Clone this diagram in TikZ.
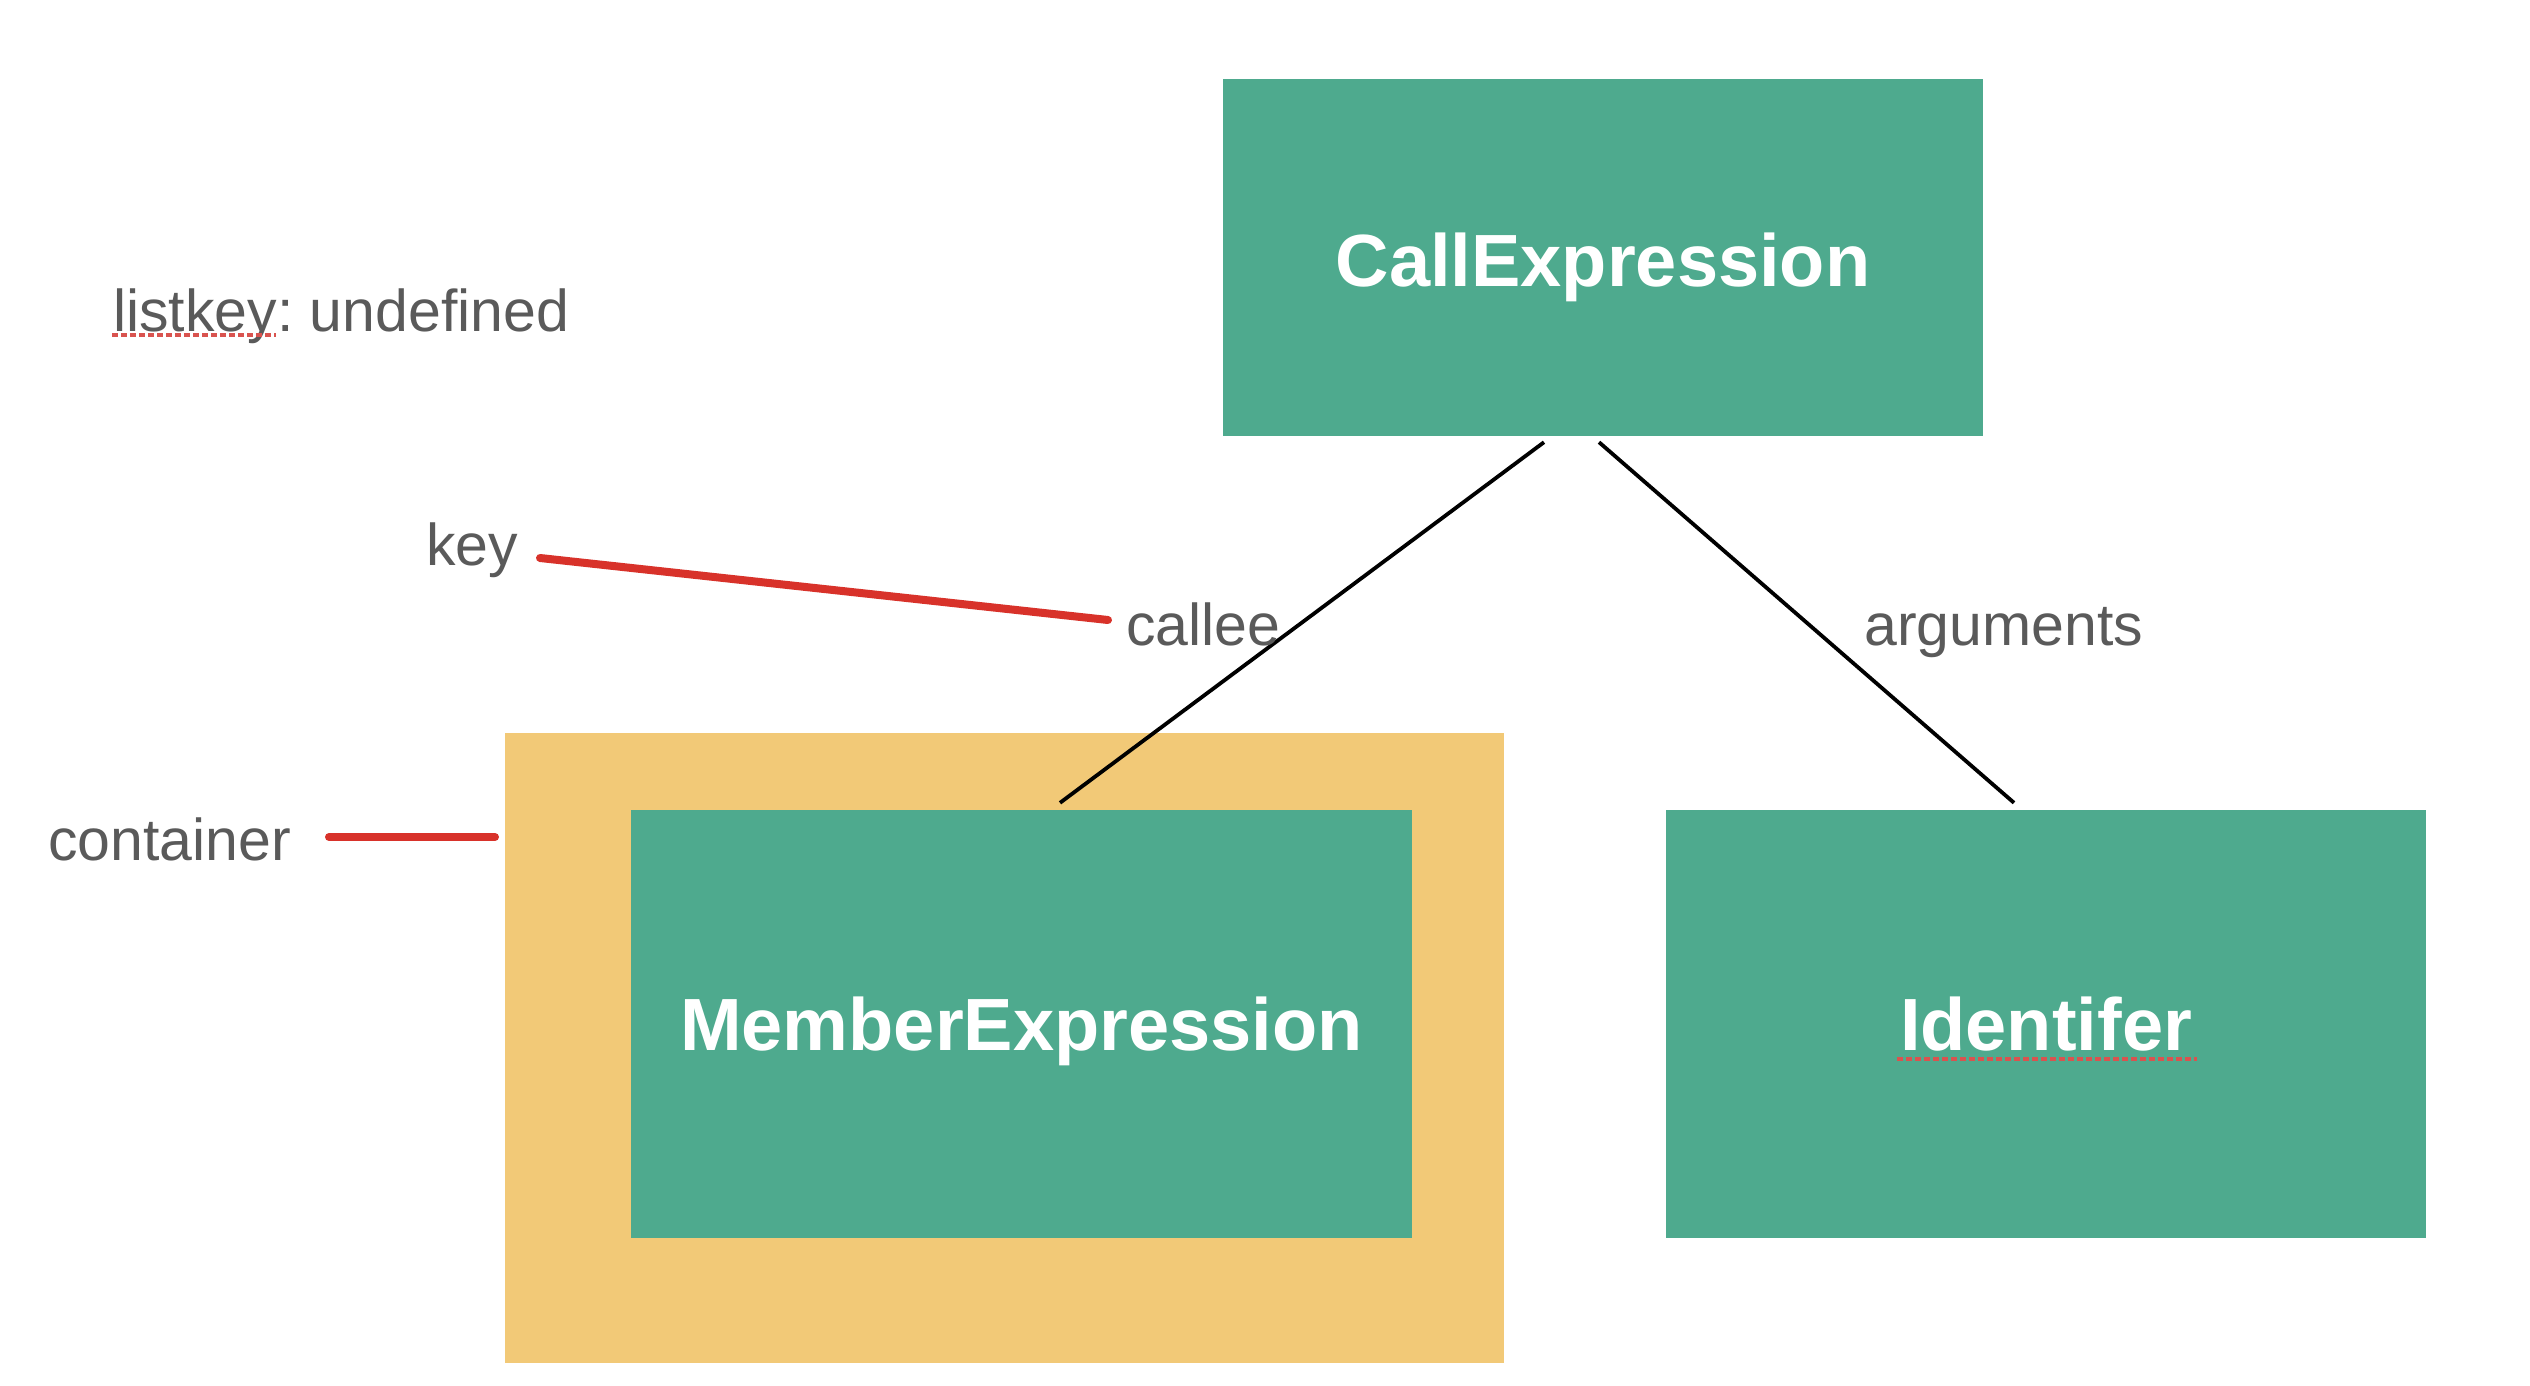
\documentclass[tikz,border=0pt]{standalone}
\usepackage{fontspec}
\setmainfont{Liberation Sans}
\frenchspacing
\definecolor{boxgreen}{HTML}{4EAA8E}
\definecolor{contyellow}{HTML}{F2C977}
\definecolor{labelgray}{HTML}{5A5A5A}
\definecolor{markred}{HTML}{D8322A}
\definecolor{spellred}{HTML}{D9534F}
\begin{document}
\begin{tikzpicture}[x=1pt,y=-1pt,
  greenbox/.style={fill=boxgreen, draw=none, inner sep=0pt, text=white,
    font=\fontsize{74}{90}\selectfont\bfseries, text height=53pt, text depth=0pt},
  lbl/.style={anchor=base west, inner sep=0pt, text=labelgray,
    font=\fontsize{59}{70}\selectfont},
  edge/.style={draw=black, line width=3.8pt},
  redmark/.style={draw=markred, line width=8pt, line cap=round},
  squiggle/.style={draw=spellred, line width=4pt, dash pattern=on 6pt off 3pt}]
\useasboundingbox (0,0) rectangle (2530,1386);
\fill[white] (0,0) rectangle (2530,1386);

% container
\node[fill=contyellow, draw=none, inner sep=0pt, minimum width=999pt, minimum height=630pt] (cont) at (1004.5,1048) {};

% boxes
\node[greenbox, minimum width=760pt, minimum height=357pt, text height=57pt] (call) at (1603,257.5) {CallExpression};
\node[greenbox, minimum width=781pt, minimum height=428pt] (member) at (1021.5,1024) {MemberExpression};
\node[greenbox, minimum width=760pt, minimum height=428pt] (ident) at (2046,1024) {Identifer};

% connectors
\draw[edge] ([xshift=-59pt,yshift=-6pt]call.south) -- ([xshift=38.5pt,yshift=7pt]member.north);
\draw[edge] ([xshift=-4pt,yshift=-6pt]call.south) -- ([xshift=-32pt,yshift=7pt]ident.north);

% labels
\node[lbl] (listkey) at (113,331) {listkey: undefined};
\node[lbl] (key) at (426,565) {key};
\node[lbl] (callee) at (1126,645) {callee};
\node[lbl] (args) at (1864,645) {arguments};
\node[lbl] (container) at (48,860) {container};

% red marks
\coordinate (ka) at (540,558);
\coordinate (kb) at (1108,620);
\draw[redmark] (ka) -- (kb);
\coordinate (ca) at (329,837);
\coordinate (cb) at (495,837);
\draw[redmark] (ca) -- (cb);

% spell-check underlines
\coordinate (s1a) at (112,335);
\coordinate (s1b) at (276,335);
\draw[squiggle] (s1a) -- (s1b);
\coordinate (s2a) at (1897,1059);
\coordinate (s2b) at (2197,1059);
\draw[squiggle] (s2a) -- (s2b);
\end{tikzpicture}
\end{document}
